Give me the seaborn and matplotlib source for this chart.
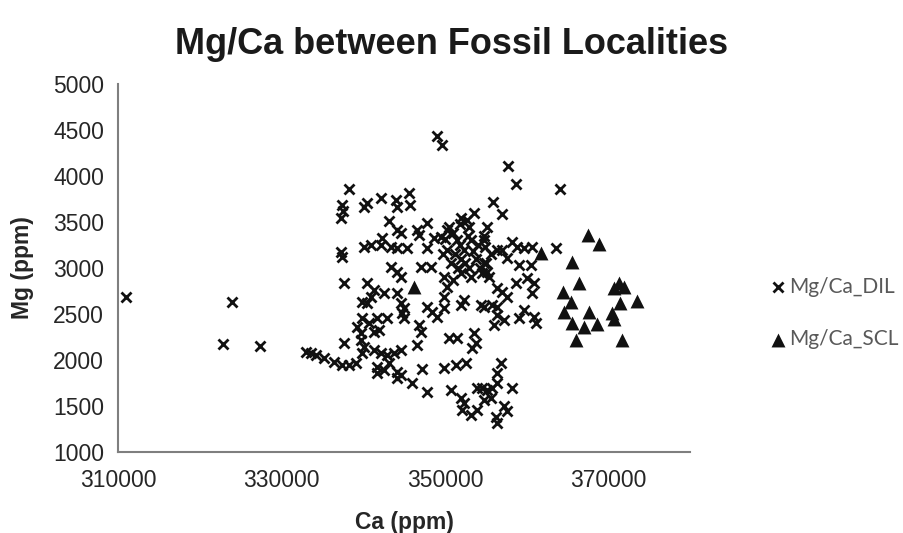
import matplotlib
matplotlib.use("Agg")
import matplotlib.pyplot as plt
import seaborn as sns
import pandas as pd

# Mg/Ca measurements, DIL locality (Ca ppm, Mg ppm)
ca_dil = [
    311000, 322800, 323900, 327400,
    332980, 333600, 334200, 335230, 336450, 337460, 338280, 339100,
    337670, 339700, 340115, 339910,
    341340, 342150, 342970, 343780, 344600,
    341740, 342560, 343170, 341740,
    344190, 344600, 344190,
    346030, 347250, 347860, 346630,
    349890, 351320, 352540, 350710,
    351930, 352340, 352140, 353160, 353970,
    353970, 354580, 355190, 355800,
    354790, 355600,
    356410, 356410, 356210, 356410, 356820,
    357200, 357600, 358200,
    339910, 340730, 341740, 342970,
    339300, 339700,
    344800, 345000,
    346840, 347040,
    341340, 341940,
    350500, 351520,
    353560, 353760, 353360,
    356000, 356410,
    339910, 340520, 344600, 345000,
    347860, 348470, 349080, 349890,
    351930, 352340,
    354380, 355800, 356410,
    349080, 349690, 338280, 337460, 337590, 337260,
    340115, 340520, 342150, 343990, 344190, 345620, 345740,
    355925, 353560, 351930, 352750, 343170,
    344190, 344600, 346630, 346840, 347860, 350300,
    355190, 348670, 342360, 342150, 340115, 340930,
    343370, 344190, 345410, 337260, 337460, 347860, 349490, 356410,
    337670, 343370, 344190, 344600, 347040, 348260,
    349890, 350300, 349890, 340520, 341340, 340930,
    342560, 344190,
    350500, 351000, 351500, 351800, 352300, 352800, 353200, 353500, 354000,
    352000, 351200, 350800, 351600, 352500, 353000, 353800, 354300, 355000,
    350300, 349800, 352000, 353200, 354500, 351000, 355600, 354800, 350000,
    353000, 351800,
    357720, 358660, 364035, 357030,
    354780, 354865, 358250, 358860, 359675, 360695,
    357030, 357640, 359065, 360490, 363545,
    354780, 355190, 355400, 358660, 360080, 360900, 360695,
    356415, 357030, 357640, 354780,
    357230, 359065, 359675, 360900, 361100,
]
mg_dil = [
    2680, 2170, 2630, 2155,
    2090, 2072, 2054, 2018, 1982, 1946, 1946, 1964,
    2181, 2217, 2145, 2072,
    2109, 2072, 2054, 2072, 2109,
    1927, 1891, 1964, 1855,
    1873, 1837, 1801,
    1746, 1898, 1656, 2163,
    1909, 1946, 1964, 1674,
    1583, 1529, 1456, 1402, 1456,
    1692, 1692, 1674, 1692,
    1565, 1583,
    1855, 1746, 1384, 1311, 1964,
    1500, 1450, 1700,
    2453, 2398, 2453, 2453,
    2362, 2290,
    2507, 2453,
    2380, 2308,
    2308, 2326,
    2235, 2235,
    2290, 2181, 2127,
    2380, 2489,
    2634, 2616, 2616, 2561,
    2580, 2525, 2471, 2561,
    2598, 2652,
    2598, 2598, 2580,
    4435, 4337, 3859, 3685, 3624, 3540,
    3660, 3703, 3758, 3739, 3660, 3819, 3685,
    3721, 3595, 3540, 3522, 3515,
    3413, 3377, 3413, 3359, 3486, 3413,
    3450, 3323, 3323, 3250, 3232, 3250,
    3232, 3214, 3214, 3178, 3124, 3214, 3341, 3196,
    2834, 3015, 2961, 2906, 3015, 3015,
    2906, 2797, 2689, 2834, 2761, 2689,
    2725, 2725,
    3450, 3380, 3300, 3250, 3200, 3350, 3300, 3180, 3250,
    3100, 3150, 3050, 3000, 3050, 3000, 3100, 3000, 3050,
    3200, 3150, 2950, 2900, 2950, 2870, 3150, 3350, 3320,
    3450, 3480,
    4108, 3913, 3855, 3587,
    3304, 3232, 3286, 3232, 3213, 3232,
    3195, 3105, 3032, 3032, 3213,
    3050, 2960, 2905, 2833, 2887, 2833, 2724,
    2779, 2743, 2688, 2580,
    2435, 2453, 2543, 2471, 2398,
]

# Mg/Ca measurements, SCL locality
ca_scl = [
    346230, 361710, 367500, 368840, 365580, 366400, 364480, 365380,
    371290, 370680, 371900, 373530, 371490, 364560, 367620, 370470,
    370680, 365580, 367000, 368640, 365990, 371700,
]
mg_scl = [
    2797, 3159, 3358, 3261, 3069, 2840, 2743, 2634,
    2833, 2779, 2797, 2645, 2616, 2525, 2525, 2514,
    2442, 2398, 2355, 2391, 2217, 2217,
]

series_names = ["Mg/Ca_DIL", "Mg/Ca_SCL"]
x_ticks = [310000, 330000, 350000, 370000]
y_ticks = list(range(1000, 5001, 500))

df = pd.concat([
    pd.DataFrame({"Ca": ca_dil, "Mg": mg_dil, "Series": series_names[0]}),
    pd.DataFrame({"Ca": ca_scl, "Mg": mg_scl, "Series": series_names[1]}),
], ignore_index=True)

sns.set_style("white")
plt.rcParams["font.family"] = ["Liberation Sans", "DejaVu Sans"]

fig = plt.figure(figsize=(9.04, 5.33), dpi=100)
ax = fig.add_axes([118 / 904, 1 - 452 / 533, (690 - 118) / 904, (452 - 84) / 533])

sns.scatterplot(
    data=df[df.Series == series_names[0]], x="Ca", y="Mg", ax=ax,
    marker="x", color="#111111", s=52, linewidth=2.0, label=series_names[0],
)
sns.scatterplot(
    data=df[df.Series == series_names[1]], x="Ca", y="Mg", ax=ax,
    marker="^", color="#111111", s=100, linewidth=0, label=series_names[1],
)

ax.set_xlim(310000, 380000)
ax.set_ylim(1000, 5000)
ax.set_xticks(x_ticks)
ax.set_yticks(y_ticks)
ax.set_xticklabels([str(v) for v in x_ticks])
ax.set_yticklabels([str(v) for v in y_ticks])

for side in ["top", "right"]:
    ax.spines[side].set_visible(False)
for side in ["left", "bottom"]:
    ax.spines[side].set_color("#7f7f7f")
    ax.spines[side].set_linewidth(1.5)
ax.tick_params(axis="both", direction="inout", length=12, width=1.2,
               color="#7f7f7f", labelsize=16.5, labelcolor="#262626", pad=4)
ax.tick_params(axis="x", pad=6)

ax.set_xlabel("Ca (ppm)", fontsize=16.5, fontweight="bold", color="#262626", labelpad=14)
ax.set_ylabel("Mg (ppm)", fontsize=16.5, fontweight="bold", color="#262626", labelpad=14)

fig.text(0.5, 1 - 45 / 533, "Mg/Ca between Fossil Localities", ha="center", va="center",
         fontsize=26, fontweight="bold", color="#1a1a1a")

leg = ax.legend(loc="center left", bbox_to_anchor=(757 / 904, 1 - 313 / 533),
                bbox_transform=fig.transFigure, frameon=False,
                handletextpad=0.05, handlelength=1.0, labelspacing=1.55,
                prop={"family": "Lato", "size": 15}, borderpad=0)
for t in leg.get_texts():
    t.set_color("#595959")

fig.savefig("out.png", dpi=100)
